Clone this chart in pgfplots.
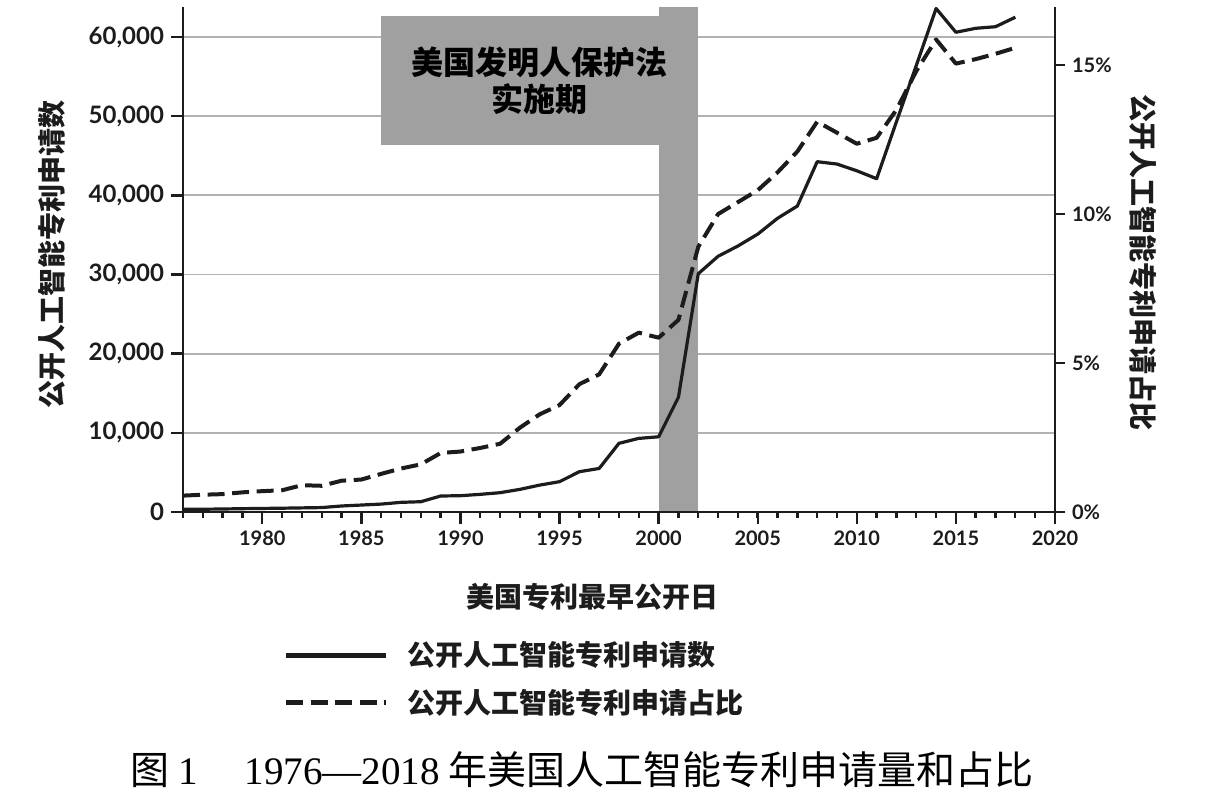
\documentclass[border=0pt]{standalone}
\usepackage{fontspec}
\setmainfont{Noto Sans CJK SC}
\newfontfamily\numfont{Lato}
\newfontfamily\serifnum{Liberation Serif}
\usepackage{pgfplots}
\usepackage{pgfplotstable}
\pgfplotsset{compat=1.18}
\definecolor{barcol}{RGB}{160,160,160}
\definecolor{gridc}{RGB}{178,178,178}
\definecolor{ink}{RGB}{28,28,28}

\pgfplotstableread{
year count
1976 350
1977 350
1978 380
1979 420
1980 450
1981 480
1982 520
1983 560
1984 760
1985 880
1986 1000
1987 1220
1988 1300
1989 2020
1990 2060
1991 2230
1992 2440
1993 2860
1994 3400
1995 3830
1996 5090
1997 5500
1998 8680
1999 9300
2000 9500
2001 14500
2002 30100
2003 32300
2004 33600
2005 35100
2006 37100
2007 38650
2008 44250
2009 43950
2010 43100
2011 42100
2012 49300
2013 56400
2014 63600
2015 60600
2016 61100
2017 61300
2018 62500
}\counttable

\pgfplotstableread{
year pct
1976 0.55
1977 0.58
1978 0.60
1979 0.66
1980 0.70
1981 0.73
1982 0.90
1983 0.88
1984 1.05
1985 1.09
1986 1.28
1987 1.46
1988 1.60
1989 1.98
1990 2.03
1991 2.15
1992 2.29
1993 2.83
1994 3.28
1995 3.59
1996 4.29
1997 4.62
1998 5.65
1999 6.02
2000 5.85
2001 6.45
2002 8.90
2003 10.0
2004 10.4
2005 10.8
2006 11.4
2007 12.1
2008 13.1
2009 12.73
2010 12.36
2011 12.56
2012 13.5
2013 14.8
2014 15.86
2015 15.05
2016 15.2
2017 15.38
2018 15.58
}\pcttable

\begin{document}
\begin{tikzpicture}
\useasboundingbox (0,0) rectangle (605pt,400pt);
\begin{axis}[
  at={(91.5pt,144pt)}, anchor=south west,
  scale only axis, width=436pt, height=252.5pt,
  xmin=1976, xmax=2020, ymin=0, ymax=63790,
  axis x line*=bottom, axis y line*=left,
  axis line style={ink, line width=1.4pt},
  xtick={1980,1985,...,2020},
  xticklabels={1980,1985,1990,1995,2000,2005,2010,2015,2020},
  minor xtick={1976,...,2020},
  ytick={0,10000,20000,30000,40000,50000,60000},
  yticklabels={0,{10,000},{20,000},{30,000},{40,000},{50,000},{60,000}},
  tick align=outside, major tick length=6pt, minor tick length=3pt,
  every tick/.style={ink, line width=1.2pt},
  ymajorgrids, major grid style={gridc, line width=0.9pt},
  yticklabel style={font=\numfont\bfseries\fontsize{12}{14}\selectfont, text=ink},
  xticklabel style={font=\numfont\bfseries\fontsize{10}{12}\selectfont, text=ink},
  xlabel={美国专利最早公开日},
  xlabel style={at={(axis description cs:0.470,-0.168)}, anchor=center,
    font=\bfseries\fontsize{14}{16}\selectfont, text=ink},
  ylabel={公开人工智能专利申请数},
  ylabel style={at={(axis description cs:-0.150,0.51)}, anchor=center,
    font=\bfseries\fontsize{14}{16}\selectfont, text=ink},
  clip=false,
]
\fill[barcol] (axis cs:2000,180) rectangle (axis cs:2002,63790);
\fill[barcol] (axis cs:1986,46300) rectangle (axis cs:2002,62600);
\node[font=\bfseries\fontsize{16}{18.5}\selectfont, align=center, text=black]
  at (axis cs:1994,54450) {美国发明人保护法\\实施期};
\addplot[ink, line width=1.6pt, line join=round] table[x=year, y=count] {\counttable};
\end{axis}

\begin{axis}[
  at={(91.5pt,144pt)}, anchor=south west,
  scale only axis, width=436pt, height=252.5pt,
  xmin=1976, xmax=2020, ymin=0, ymax=16.95,
  axis x line=none, axis y line*=right,
  axis line style={ink, line width=1.4pt},
  ytick={0,5,10,15},
  yticklabels={0\%,5\%,10\%,15\%},
  tick align=outside, major tick length=5pt,
  every tick/.style={ink, line width=1.2pt},
  yticklabel style={font=\numfont\bfseries\fontsize{10}{12}\selectfont, text=ink},
  ylabel={公开人工智能专利申请占比},
  ylabel style={at={(axis description cs:1.101,0.494)}, anchor=center, rotate=180,
    font=\bfseries\fontsize{14}{16}\selectfont, text=ink},
  legend image code/.code={\draw[#1, line width=2.4pt] (0pt,0pt) -- (50pt,0pt);},
  legend style={draw=none, fill=none, at={(axis description cs:0.115,-0.25)},
    anchor=north west, inner sep=0pt, row sep=7pt,
    font=\bfseries\fontsize{14}{16}\selectfont, text=ink,
    nodes={inner sep=1.5pt},
    /tikz/every odd column/.append style={column sep=8pt}},
  legend cell align=left,
  clip=false,
]
\addlegendimage{ink, line width=1.6pt}
\addlegendentry{公开人工智能专利申请数}
\addplot[ink, line width=2pt, dash pattern=on 8.5pt off 3.8pt, line join=round] table[x=year, y=pct] {\pcttable};
\addlegendentry{公开人工智能专利申请占比}
\end{axis}

\node[anchor=center, font=\fontsize{19.5}{21}\selectfont, text=black] at (291pt,15pt)
  {图 {\serifnum 1}\hspace{1.2em}{\serifnum 1976—2018} 年美国人工智能专利申请量和占比};
\end{tikzpicture}
\end{document}
